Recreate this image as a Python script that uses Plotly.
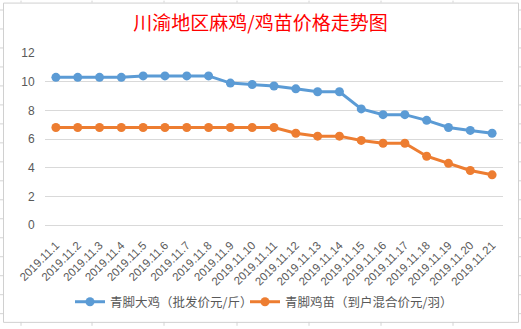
import plotly.graph_objects as go

dates = ["2019.11.1", "2019.11.2", "2019.11.3", "2019.11.4", "2019.11.5", "2019.11.6",
         "2019.11.7", "2019.11.8", "2019.11.9", "2019.11.10", "2019.11.11", "2019.11.12",
         "2019.11.13", "2019.11.14", "2019.11.15", "2019.11.16", "2019.11.17", "2019.11.18",
         "2019.11.19", "2019.11.20", "2019.11.21"]
big_chicken = [10.3, 10.3, 10.3, 10.3, 10.4, 10.4, 10.4, 10.4, 9.9, 9.8, 9.7, 9.5,
               9.3, 9.3, 8.1, 7.7, 7.7, 7.3, 6.8, 6.6, 6.4]
chick = [6.8, 6.8, 6.8, 6.8, 6.8, 6.8, 6.8, 6.8, 6.8, 6.8, 6.8, 6.4,
         6.2, 6.2, 5.9, 5.7, 5.7, 4.8, 4.3, 3.8, 3.5]
name_big = "青脚大鸡（批发价元/斤）"
name_chick = "青脚鸡苗（到户混合价元/羽）"
title_text = "川渝地区麻鸡/鸡苗价格走势图"
y_ticks = [0, 2, 4, 6, 8, 10, 12]

W, H = 521, 329
L, R, T, B = 45, 18, 53, 102
PW, PH = W - L - R, H - T - B

def px(x):
    return (x - L) / PW

def py(y):
    return (H - B - y) / PH

fig = go.Figure()
fig.add_trace(go.Scatter(x=dates, y=big_chicken, name=name_big, mode="lines+markers",
                         line=dict(color="#5B9BD5", width=3),
                         marker=dict(color="#5B9BD5", size=9), legend="legend"))
fig.add_trace(go.Scatter(x=dates, y=chick, name=name_chick, mode="lines+markers",
                         line=dict(color="#ED7D31", width=3),
                         marker=dict(color="#ED7D31", size=9), legend="legend2"))

shapes = []
grid = "#d4d4d4"
# spreadsheet grid outside the chart
for cx in [21, 92, 164, 237, 309, 381, 453]:
    shapes.append(dict(type="line", xref="paper", yref="paper", x0=px(cx), x1=px(cx),
                       y0=py(0), y1=py(2), line=dict(color=grid, width=1), layer="below"))
    shapes.append(dict(type="line", xref="paper", yref="paper", x0=px(cx), x1=px(cx),
                       y0=py(325), y1=py(329), line=dict(color=grid, width=1), layer="below"))
ry = 9.5
while ry < 329:
    shapes.append(dict(type="line", xref="paper", yref="paper", x0=px(0), x1=px(3),
                       y0=py(ry), y1=py(ry), line=dict(color=grid, width=1), layer="below"))
    shapes.append(dict(type="line", xref="paper", yref="paper", x0=px(518), x1=px(521),
                       y0=py(ry), y1=py(ry), line=dict(color=grid, width=1), layer="below"))
    ry += 19.2
# chart border
shapes.append(dict(type="rect", xref="paper", yref="paper", x0=px(3.5), x1=px(518.5),
                   y0=py(2.5), y1=py(325.5), line=dict(color="#d0d0d0", width=1),
                   fillcolor="rgba(0,0,0,0)", layer="below"))

legend_style = dict(orientation="h", xanchor="left", yanchor="middle", itemwidth=30,
                    font=dict(family="Noto Sans CJK SC", size=12.5, color="#595959"),
                    bgcolor="rgba(0,0,0,0)")

fig.update_layout(
    width=W, height=H,
    margin=dict(l=L, r=R, t=T, b=B, pad=0),
    paper_bgcolor="white", plot_bgcolor="white",
    title=dict(text=title_text, x=0.5, xanchor="center", y=1 - 23 / H, yanchor="middle",
               font=dict(family="Noto Sans CJK SC", size=19, color="#FF0000")),
    font=dict(family="Noto Sans CJK SC", color="#595959"),
    xaxis=dict(type="category", range=[-0.5, len(dates) - 0.5], tickangle=-45,
               showgrid=False, showline=False, zeroline=False,
               ticks="outside", ticklen=8, tickcolor="rgba(0,0,0,0)",
               tickfont=dict(family="Liberation Sans", size=11.5, color="#595959")),
    yaxis=dict(range=[0, 12], tickvals=y_ticks, showgrid=True, gridcolor="#d9d9d9",
               gridwidth=1, zeroline=True, zerolinecolor="#d9d9d9", zerolinewidth=1,
               showline=False, ticks="outside", ticklen=7, tickcolor="rgba(0,0,0,0)",
               tickfont=dict(family="Liberation Sans", size=12, color="#595959")),
    legend=dict(x=px(70), y=py(305), **legend_style),
    legend2=dict(x=px(245), y=py(305), **legend_style),
    showlegend=True,
    shapes=shapes,
)

fig.write_html("out.html")
